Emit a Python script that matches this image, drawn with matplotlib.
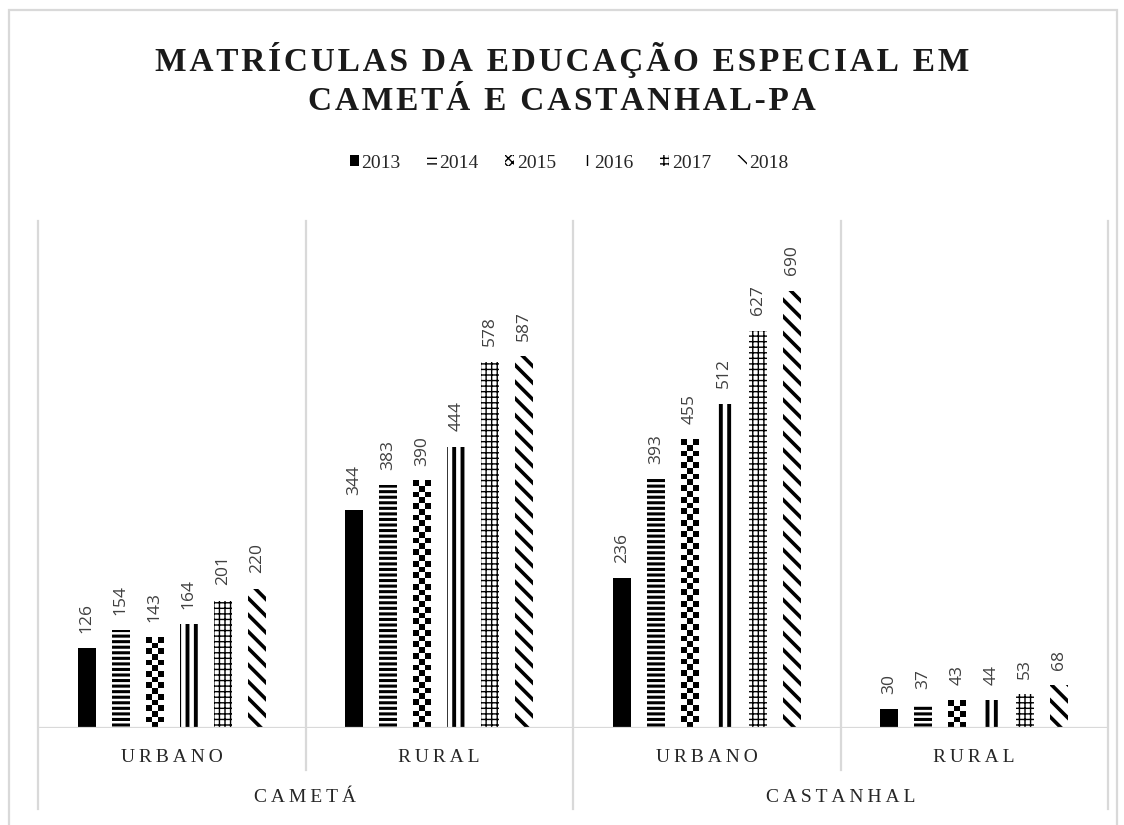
import numpy as np
import matplotlib
matplotlib.use("Agg")
import matplotlib.pyplot as plt
from matplotlib.patches import Patch, Rectangle
from matplotlib.colors import ListedColormap
from matplotlib.transforms import blended_transform_factory

# ---- data ----
groups = ["CAMETÁ", "CASTANHAL"]
categories = ["URBANO", "RURAL", "URBANO", "RURAL"]
years = ["2013", "2014", "2015", "2016", "2017", "2018"]
v2013 = [126, 344, 236, 30]
v2014 = [154, 383, 393, 37]
v2015 = [143, 390, 455, 43]
v2016 = [164, 444, 512, 44]
v2017 = [201, 578, 627, 53]
v2018 = [220, 587, 690, 68]
series = [v2013, v2014, v2015, v2016, v2017, v2018]

title_lines = ["MATRÍCULAS DA EDUCAÇÃO ESPECIAL EM", "CAMETÁ E CASTANHAL-PA"]

# styles: (hatch, hatch linewidth, facecolor)
styles = [
    (None, 1.0, "black"),
    ("---", 2.2, "white"),
    ("checker", 1.0, "white"),
    ("||", 2.8, "white"),
    ("+++", 1.0, "white"),
    ("\\\\", 2.6, "white"),
]

W, H = 1124, 825
fig = plt.figure(figsize=(W / 100, H / 100), dpi=100)
fig.patch.set_facecolor("white")

ax_l, ax_r, ax_b, ax_t = 38, 1108, 728, 221
ax = fig.add_axes([ax_l / W, 1 - ax_b / H, (ax_r - ax_l) / W, (ax_b - ax_t) / H])
ax.set_xlim(0, len(categories))
ax.set_ylim(0, 800)
ax.axis("off")

n = len(series)
step = 0.127
width = 0.067
x = np.arange(len(categories)) + 0.5
label_font = "Open Sans"

def add_checker(rect, cell_px=5.8):
    x0, y0 = rect.get_x(), rect.get_y()
    w, h = rect.get_width(), rect.get_height()
    p0 = ax.transData.transform((x0, y0))
    p1 = ax.transData.transform((x0 + w, y0 + h))
    ncol = max(1, int(round((p1[0] - p0[0]) / cell_px)))
    nrow = max(1, int(round((p1[1] - p0[1]) / cell_px)))
    arr = np.add.outer(np.arange(nrow), np.arange(ncol)) % 2
    ax.imshow(arr, cmap=ListedColormap(["black", "white"]), extent=(x0, x0 + w, y0, y0 + h),
              interpolation="nearest", aspect="auto", origin="upper", zorder=2)

for i, (vals, (hatch, hlw, fc)) in enumerate(zip(series, styles)):
    xs = x + (i - (n - 1) / 2) * step
    with plt.rc_context({"hatch.linewidth": hlw, "hatch.color": "black"}):
        if hatch == "checker":
            bars = ax.bar(xs, vals, width, color="white", linewidth=0, zorder=1)
            for r in bars:
                add_checker(r)
        else:
            bars = ax.bar(xs, vals, width, facecolor=fc, edgecolor="black",
                          hatch=hatch, linewidth=0, zorder=2)
            for r in bars:
                if hasattr(r, "set_hatch_linewidth"):
                    r.set_hatch_linewidth(hlw)
    for xx, v in zip(xs, vals):
        ax.annotate(str(v), (xx, v), xytext=(0, 11), textcoords="offset points",
                    rotation=90, ha="center", va="bottom", fontsize=12.5,
                    color="#404040", family=label_font)

ax.set_xlim(0, len(categories))
ax.set_ylim(0, 800)

# grid / separator lines
grey = "#d9d9d9"
bt = blended_transform_factory(ax.transData, ax.transAxes)
axh = ax_b - ax_t
ax.axhline(0, color=grey, lw=1.6, zorder=3)
for k in range(len(categories) + 1):
    bottom_px = 809 if k in (0, 2, 4) else 770
    ax.plot([k, k], [1, -(bottom_px - ax_b) / axh], transform=bt, color=grey, lw=1.6,
            clip_on=False, zorder=0)

def spaced(s, sep="\u2009"):
    return sep.join(s)

for k, c in enumerate(categories):
    ax.text(k + 0.5, -(757 - ax_b) / axh, spaced(c), transform=bt, ha="center", va="center",
            fontsize=14, family="Liberation Serif", color="#262626")
for g, name in enumerate(groups):
    ax.text(2 * g + 1, -(797 - ax_b) / axh, spaced(name), transform=bt, ha="center", va="center",
            fontsize=14, family="Liberation Serif", color="#262626")

# title
for line, ypx in zip(title_lines, (60, 101)):
    fig.text(0.5, 1 - ypx / H, spaced(line, "\u200a"), ha="center", va="center", fontsize=24,
             fontweight="bold", family="Liberation Serif", color="#1a1a1a")

# legend
handles = []
for (hatch, hlw, fc), yr in zip(styles, years):
    if hatch == "checker":
        handles.append(Patch(facecolor="white", edgecolor="black", hatch="xxxx", linewidth=0, label=yr))
    else:
        handles.append(Patch(facecolor=fc, edgecolor="black", hatch=hatch, linewidth=0, label=yr))
leg = fig.legend(handles=handles, loc="center", bbox_to_anchor=(569 / W, 1 - 163 / H), ncol=6,
                 frameon=False, handlelength=0.5, handleheight=0.5, handletextpad=0.12,
                 columnspacing=1.35, prop={"family": "Liberation Serif", "size": 14})
for t in leg.get_texts():
    t.set_color("#262626")

# outer border
fig.add_artist(Rectangle((9 / W, -0.05), (1117 - 9) / W, 1.05 - 10 / H, transform=fig.transFigure,
                         fill=False, edgecolor=grey, lw=1.6))

fig.savefig("out.png", dpi=100, facecolor="white")
